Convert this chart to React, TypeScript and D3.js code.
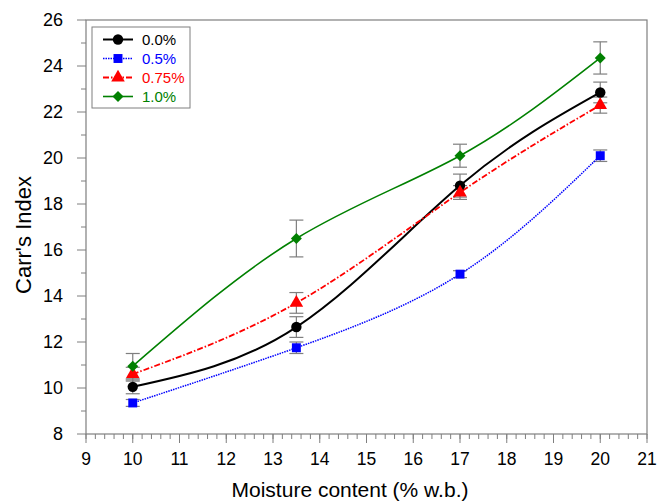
import React, { useEffect, useRef } from "react";
import * as d3 from "d3";

// moisture content levels (% w.b.)
const moisture = [10, 13.5, 17, 20];

const seriesNames = ["0.0%", "0.5%", "0.75%", "1.0%"];
const carr00 = [10.05, 12.65, 18.8, 22.85];
const carr05 = [9.35, 11.75, 14.95, 20.1];
const carr075 = [10.6, 13.7, 18.5, 22.3];
const carr10 = [10.95, 16.5, 20.1, 24.35];
const err00 = [0.3, 0.45, 0.5, 0.45];
const err05 = [0.15, 0.25, 0.15, 0.25];
const err075 = [0.3, 0.45, 0.3, 0.35];
const err10 = [0.55, 0.8, 0.5, 0.7];

const xTicks = d3.range(9, 22, 1);
const yTicks = d3.range(8, 27, 2);

const W = 665;
const H = 503;
const margin = { top: 20, right: 18, bottom: 69, left: 86 };

const styles = [
  { color: "#000000", dash: null, width: 2, symbol: d3.symbolCircle, size: 85, rot: 0 },
  { color: "#0000ff", dash: "1.5,1", width: 1.5, symbol: d3.symbolSquare, size: 80, rot: 0 },
  { color: "#ff0000", dash: "6,2,1.5,2", width: 1.8, symbol: d3.symbolTriangle, size: 80, rot: 0 },
  { color: "#008000", dash: null, width: 1.6, symbol: d3.symbolSquare, size: 60, rot: 45 },
];

export default function App() {
  const ref = useRef<SVGSVGElement | null>(null);

  useEffect(() => {
    const svg = d3.select(ref.current);
    svg.selectAll("*").remove();

    const x = d3.scaleLinear().domain([9, 21]).range([margin.left, W - margin.right]);
    const y = d3.scaleLinear().domain([8, 26]).range([H - margin.bottom, margin.top]);
    const font = "'Liberation Sans', Arial, sans-serif";
    const gray = "#7f7f7f";

    const series = [
      { name: seriesNames[0], vals: carr00, errs: err00 },
      { name: seriesNames[1], vals: carr05, errs: err05 },
      { name: seriesNames[2], vals: carr075, errs: err075 },
      { name: seriesNames[3], vals: carr10, errs: err10 },
    ];

    // frame
    svg
      .append("rect")
      .attr("x", x(9))
      .attr("y", y(26))
      .attr("width", x(21) - x(9))
      .attr("height", y(8) - y(26))
      .attr("fill", "none")
      .attr("stroke", gray)
      .attr("stroke-width", 1.2);

    // x axis
    const xAxis = svg.append("g").attr("transform", `translate(0,${y(8)})`);
    xAxis
      .selectAll("line.minor")
      .data(d3.range(9, 21.01, 0.2))
      .enter()
      .append("line")
      .attr("x1", (d) => x(d))
      .attr("x2", (d) => x(d))
      .attr("y1", 0)
      .attr("y2", 5)
      .attr("stroke", gray);
    xAxis
      .selectAll("line.major")
      .data(xTicks)
      .enter()
      .append("line")
      .attr("x1", (d) => x(d))
      .attr("x2", (d) => x(d))
      .attr("y1", 0)
      .attr("y2", 9)
      .attr("stroke", gray);
    xAxis
      .selectAll("text")
      .data(xTicks)
      .enter()
      .append("text")
      .attr("x", (d) => x(d))
      .attr("y", 31)
      .attr("text-anchor", "middle")
      .style("font-family", font)
      .style("font-size", "17.5px")
      .text((d) => d);

    // y axis
    const yAxis = svg.append("g").attr("transform", `translate(${x(9)},0)`);
    yAxis
      .selectAll("line.minor")
      .data(d3.range(9, 26, 2))
      .enter()
      .append("line")
      .attr("x1", -5)
      .attr("x2", 0)
      .attr("y1", (d) => y(d))
      .attr("y2", (d) => y(d))
      .attr("stroke", gray);
    yAxis
      .selectAll("line.major")
      .data(yTicks)
      .enter()
      .append("line")
      .attr("x1", -9)
      .attr("x2", 0)
      .attr("y1", (d) => y(d))
      .attr("y2", (d) => y(d))
      .attr("stroke", gray);
    yAxis
      .selectAll("text")
      .data(yTicks)
      .enter()
      .append("text")
      .attr("x", -23)
      .attr("y", (d) => y(d) + 6)
      .attr("text-anchor", "end")
      .style("font-family", font)
      .style("font-size", "18px")
      .text((d) => d);

    // titles
    svg
      .append("text")
      .attr("x", 350)
      .attr("y", 497)
      .attr("text-anchor", "middle")
      .style("font-family", font)
      .style("font-size", "21px")
      .text("Moisture content (% w.b.)");
    svg
      .append("text")
      .attr("transform", `translate(31,235) rotate(-90)`)
      .attr("text-anchor", "middle")
      .style("font-family", font)
      .style("font-size", "22px")
      .text("Carr's Index");

    // error bars
    series.forEach((s) => {
      s.vals.forEach((v, i) => {
        const cx = x(moisture[i]);
        const g = svg.append("g").attr("stroke", gray).attr("stroke-width", 1.2);
        g.append("line").attr("x1", cx).attr("x2", cx).attr("y1", y(v - s.errs[i])).attr("y2", y(v + s.errs[i]));
        [v - s.errs[i], v + s.errs[i]].forEach((e) => {
          g.append("line").attr("x1", cx - 7).attr("x2", cx + 7).attr("y1", y(e)).attr("y2", y(e));
        });
      });
    });

    // curves
    const line = d3
      .line<number>()
      .x((_, i) => x(moisture[i]))
      .y((d) => y(d))
      .curve(d3.curveNatural);

    series.forEach((s, k) => {
      const st = styles[k];
      svg
        .append("path")
        .attr("d", line(s.vals))
        .attr("fill", "none")
        .attr("stroke", st.color)
        .attr("stroke-width", st.width)
        .attr("stroke-dasharray", st.dash);
    });

    // markers
    series.forEach((s, k) => {
      const st = styles[k];
      const sym = d3.symbol().type(st.symbol).size(st.size);
      svg
        .append("g")
        .selectAll("path")
        .data(s.vals)
        .enter()
        .append("path")
        .attr("d", sym)
        .attr("transform", (d, i) => `translate(${x(moisture[i])},${y(d)}) rotate(${st.rot})`)
        .attr("fill", st.color);
    });

    // legend
    const lg = svg.append("g");
    lg.append("rect")
      .attr("x", 92)
      .attr("y", 27)
      .attr("width", 98)
      .attr("height", 81)
      .attr("fill", "white")
      .attr("stroke", gray);
    series.forEach((s, k) => {
      const st = styles[k];
      const ly = 39.5 + k * 19;
      lg.append("line")
        .attr("x1", 103)
        .attr("x2", 133)
        .attr("y1", ly)
        .attr("y2", ly)
        .attr("stroke", st.color)
        .attr("stroke-width", st.width)
        .attr("stroke-dasharray", st.dash);
      lg.append("path")
        .attr("d", d3.symbol().type(st.symbol).size(st.size)())
        .attr("transform", `translate(118,${ly}) rotate(${st.rot})`)
        .attr("fill", st.color);
      lg.append("text")
        .attr("x", 142)
        .attr("y", ly + 5.5)
        .attr("fill", st.color)
        .style("font-family", font)
        .style("font-size", "15px")
        .text(s.name);
    });
  }, []);

  return (
    <svg
      ref={ref}
      width={W}
      height={H}
      style={{ position: "absolute", left: 0, top: 0, background: "white" }}
    />
  );
}
